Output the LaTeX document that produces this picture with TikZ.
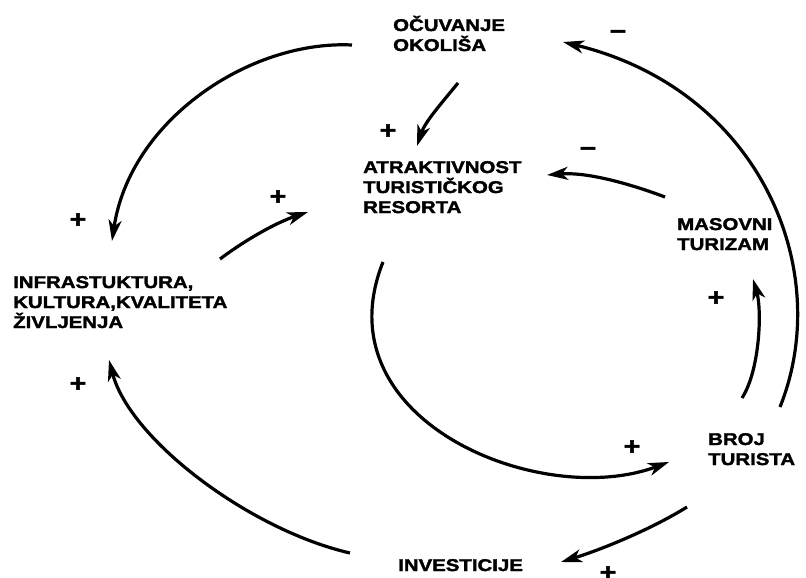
\documentclass[tikz,border=0pt]{standalone}
\usepackage{fontspec}
\setmainfont{Liberation Sans}[FakeStretch=1.2, BoldFont=Liberation Sans Bold,
    BoldFeatures={FakeStretch=1.2, FakeBold=2}]
\usetikzlibrary{arrows.meta}

\tikzstyle{var} = [
        anchor=base west, align=left, inner sep=0pt,
        font=\fontsize{17}{20}\selectfont\bfseries
    ]
\tikzstyle{sign} = [
        inner sep=0pt, text height=16.8pt, text depth=0pt,
        font=\fontsize{24}{24}\selectfont\bfseries
    ]
\tikzstyle{link} = [
        -{Stealth[length=21pt, width=13pt, inset=6pt]}, line width=3.2pt
    ]
\tikzstyle{tmp} = [coordinate]

\begin{document}
\begin{tikzpicture}[x=1pt, y=-1pt]
        \useasboundingbox (0,0) rectangle (806,578);
        % variables (base = last line)
        \node [var] (ocuv)   at (393,51)  {OČUVANJE\\OKOLIŠA};
        \node [var] (atrakt) at (363,213) {ATRAKTIVNOST\\TURISTIČKOG\\RESORTA};
        \node [var] (infra)  at (13,328)  {INFRASTUKTURA,\\KULTURA,KVALITETA\\ŽIVLJENJA};
        \node [var] (masov)  at (677,250) {MASOVNI\\TURIZAM};
        \node [var] (broj)   at (708,465) {BROJ\\TURISTA};
        \node [var] (invest) at (398,571) {INVESTICIJE};
        % loose ends of the links
        \node [tmp] (ocuvl)   at (352,45)  {};
        \node [tmp] (infrat)  at (112,241) {};
        \node [tmp] (ocuvb)   at (458,83)  {};
        \node [tmp] (atraktt) at (417,146) {};
        \node [tmp] (infrar)  at (220,259) {};
        \node [tmp] (atraktl) at (308,212) {};
        \node [tmp] (brojr)   at (780,407) {};
        \node [tmp] (ocuvr)   at (563,42)  {};
        \node [tmp] (masovl)  at (665,197) {};
        \node [tmp] (atraktr) at (547,175) {};
        \node [tmp] (brojt)   at (742,398) {};
        \node [tmp] (masovb)  at (753,279) {};
        \node [tmp] (atraktb) at (383,262) {};
        \node [tmp] (brojl)   at (669,462) {};
        \node [tmp] (brojb)   at (687,507) {};
        \node [tmp] (investr) at (561,562) {};
        \node [tmp] (investl) at (350,553) {};
        \node [tmp] (infrab)  at (109,360) {};
        % links
        \draw [link] (ocuvl)   .. controls (250,40) and (130,120)  .. (infrat);
        \draw [link] (ocuvb)   .. controls (440,105) and (425,122) .. (atraktt);
        \draw [link] (infrar)  .. controls (248,238) and (278,222) .. (atraktl);
        \draw [link] (brojr)   .. controls (835,270) and (760,90)  .. (ocuvr);
        \draw [link] (masovl)  .. controls (625,182) and (585,172) .. (atraktr);
        \draw [link] (brojt)   .. controls (760,370) and (762,310) .. (masovb);
        \draw [link] (atraktb) .. controls (320,420) and (540,510) .. (brojl);
        \draw [link] (brojb)   .. controls (650,530) and (600,550) .. (investr);
        \draw [link] (investl) .. controls (250,530) and (130,440) .. (infrab);
        % polarities
        \node [sign] (s1) at (618,31)  {−};
        \node [sign] (s2) at (388,130) {+};
        \node [sign] (s3) at (588,148) {−};
        \node [sign] (s4) at (278,196) {+};
        \node [sign] (s5) at (78,219)  {+};
        \node [sign] (s6) at (78,383)  {+};
        \node [sign] (s7) at (716,297) {+};
        \node [sign] (s8) at (632,446) {+};
        \node [sign] (s9) at (608,572) {+};
    \end{tikzpicture}
\end{document}
